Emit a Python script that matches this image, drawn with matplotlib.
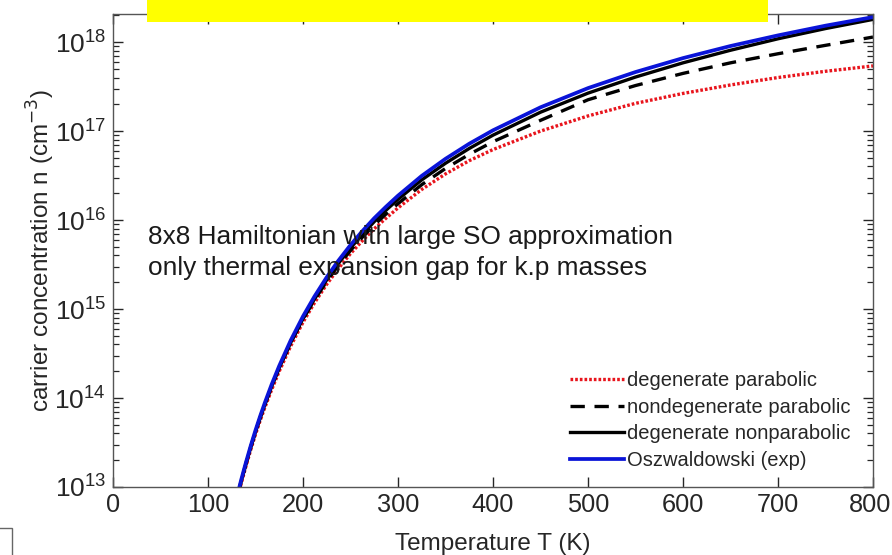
import matplotlib
matplotlib.use("Agg")
import matplotlib.pyplot as plt
import matplotlib.transforms as mtransforms
from matplotlib.patches import Rectangle
from matplotlib.ticker import LogLocator, NullFormatter

plt.rcParams['font.family'] = ['Liberation Sans', 'DejaVu Sans']

# ---- data ----
temperature = [125, 130, 135, 140, 145, 150, 155, 160, 167, 175, 187, 200, 212,
               225, 237, 250, 262, 275, 287, 300, 325, 350, 375, 400, 450, 500,
               550, 600, 650, 700, 750, 800]

degenerate_parabolic = [4.0e12, 6.8e12, 1.10e13, 1.72e13, 2.62e13, 3.9e13, 5.61e13,
                        7.9e13, 1.24e14, 2.0e14, 3.83e14, 7.1e14, 1.17e15, 1.9e15,
                        2.83e15, 4.2e15, 5.78e15, 8.0e15, 1.04e16, 1.37e16, 2.21e16,
                        3.3e16, 4.65e16, 6.2e16, 1.0e17, 1.48e17, 2.05e17, 2.65e17,
                        3.3e17, 4.0e17, 4.7e17, 5.4e17]

nondegenerate_parabolic = [4.3e12, 7.2e12, 1.17e13, 1.84e13, 2.82e13, 4.2e13, 6.08e13,
                           8.6e13, 1.36e14, 2.2e14, 4.19e14, 7.7e14, 1.26e15, 2.05e15,
                           3.07e15, 4.55e15, 6.34e15, 8.8e15, 1.16e16, 1.53e16, 2.50e16,
                           3.8e16, 5.48e16, 7.6e16, 1.32e17, 2.25e17, 3.25e17, 4.45e17,
                           5.85e17, 7.4e17, 9.2e17, 1.14e18]

degenerate_nonparabolic = [4.2e12, 7.1e12, 1.16e13, 1.82e13, 2.79e13, 4.15e13, 6.00e13,
                           8.5e13, 1.35e14, 2.18e14, 4.18e14, 7.8e14, 1.29e15, 2.13e15,
                           3.23e15, 4.85e15, 6.82e15, 9.6e15, 1.28e16, 1.71e16, 2.83e16,
                           4.35e16, 6.38e16, 9.0e16, 1.63e17, 2.67e17, 4.05e17, 5.85e17,
                           8.1e17, 1.09e18, 1.42e18, 1.80e18]

oszwaldowski_exp = [4.4e12, 7.43e12, 1.21e13, 1.90e13, 2.91e13, 4.34e13, 6.30e13,
                    8.95e13, 1.42e14, 2.30e14, 4.43e14, 8.28e14, 1.38e15, 2.28e15,
                    3.47e15, 5.24e15, 7.41e15, 1.05e16, 1.40e16, 1.88e16, 3.14e16,
                    4.88e16, 7.21e16, 1.02e17, 1.85e17, 3.04e17, 4.61e17, 6.61e17,
                    9.04e17, 1.19e18, 1.53e18, 1.91e18]

series_labels = ["degenerate parabolic", "nondegenerate parabolic",
                 "degenerate nonparabolic", "Oszwaldowski (exp)"]

x_ticks = [0, 100, 200, 300, 400, 500, 600, 700, 800]

annotation_lines = ["8x8 Hamiltonian with large SO approximation",
                    "only thermal expansion gap for k.p masses"]

# ---- figure ----
W, H = 892, 555
fig = plt.figure(figsize=(W / 100, H / 100), dpi=100)
ax = fig.add_axes([113 / W, 1 - 487 / H, (873 - 113) / W, (487 - 14) / H])

axis_col = '#262626'
ax.plot(temperature, degenerate_parabolic, color='#e8141c', lw=2.4,
        dashes=(0.8, 0.6), label=series_labels[0])
ax.plot(temperature, nondegenerate_parabolic, color='black', lw=2.4,
        dashes=(4.3, 2.9), label=series_labels[1])
ax.plot(temperature, degenerate_nonparabolic, color='black', lw=2.4,
        label=series_labels[2])
ax.plot(temperature, oszwaldowski_exp, color='#0a14d8', lw=2.7,
        label=series_labels[3])

ax.set_yscale('log')
ax.set_xlim(0, 800)
ax.set_ylim(1e13, 2.07e18)
ax.set_xticks(x_ticks)
ax.yaxis.set_major_locator(LogLocator(base=10, numticks=20))
ax.yaxis.set_minor_locator(LogLocator(base=10, subs=range(2, 10), numticks=50))
ax.yaxis.set_minor_formatter(NullFormatter())

ax.tick_params(axis='both', which='both', direction='in', top=True, right=True,
               colors=axis_col)
ax.tick_params(axis='x', labelsize=18.3, pad=4)
ax.tick_params(axis='y', labelsize=19, pad=5)
ax.tick_params(axis='both', which='major', length=7, width=1.0)
ax.tick_params(axis='y', which='minor', length=4, width=0.9)
for sp in ax.spines.values():
    sp.set_color('#555555')
    sp.set_linewidth(1.0)

# nudge the last x tick label so it stays inside the picture
fig.canvas.draw()
last_lbl = ax.get_xticklabels()[-1]
last_lbl.set_transform(last_lbl.get_transform() +
                       mtransforms.ScaledTranslation(-3 / 100, 0, fig.dpi_scale_trans))

ax.set_xlabel('Temperature T (K)', fontsize=17.5, color=axis_col, labelpad=12)
ax.set_ylabel('carrier concentration n (cm$^{-3}$)', fontsize=17.5,
              color=axis_col, labelpad=-2)

ax.text(36.8, 6.46e15, annotation_lines[0], fontsize=18.9, color='#1a1a1a',
        va='center', ha='left')
ax.text(36.8, 2.9e15, annotation_lines[1], fontsize=18.9, color='#1a1a1a',
        va='center', ha='left')

leg = ax.legend(loc='upper left', bbox_to_anchor=((570 - 113) / 760, (487 - 371) / 473),
                frameon=False, fontsize=14.5, handlelength=2.7, handletextpad=0.15,
                labelspacing=0.38, borderpad=0, borderaxespad=0)
for t in leg.get_texts():
    t.set_color(axis_col)

# yellow rectangle covering the title area
fig.patches.append(Rectangle((147 / W, 1 - 22 / H), (768 - 147) / W, 22 / H + 0.01,
                             transform=fig.transFigure, facecolor='#ffff00',
                             edgecolor='none', zorder=10))
# small box outline at bottom-left
fig.patches.append(Rectangle((-5 / W, -5 / H), 17 / W, (555 - 528 + 5) / H,
                             transform=fig.transFigure, facecolor='none',
                             edgecolor='#666666', lw=1.0, zorder=10))

fig.savefig('out.png', dpi=100)
